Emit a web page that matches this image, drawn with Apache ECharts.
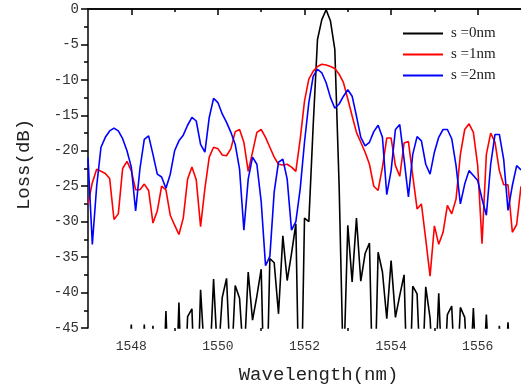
<!DOCTYPE html>
<html><head><meta charset="utf-8">
<script src="https://cdn.jsdelivr.net/npm/echarts@6/dist/echarts.min.js"></script>
<style>html,body{margin:0;padding:0;background:#fff}#c{width:521px;height:389px}</style>
</head><body><div id="c"></div>
<script>
const wavelength = [1547.0,1547.1,1547.2,1547.3,1547.4,1547.5,1547.6,1547.7,1547.8,1547.9,
1548.0,1548.1,1548.2,1548.3,1548.4,1548.5,1548.6,1548.7,1548.8,1548.9,
1549.0,1549.1,1549.2,1549.3,1549.4,1549.5,1549.6,1549.7,1549.8,1549.9,
1550.0,1550.1,1550.2,1550.3,1550.4,1550.5,1550.6,1550.7,1550.8,1550.9,
1551.0,1551.1,1551.2,1551.3,1551.4,1551.5,1551.6,1551.7,1551.8,1551.9,
1552.0,1552.1,1552.2,1552.3,1552.4,1552.5,1552.6,1552.7,1552.8,1552.9,
1553.0,1553.1,1553.2,1553.3,1553.4,1553.5,1553.6,1553.7,1553.8,1553.9,
1554.0,1554.1,1554.2,1554.3,1554.4,1554.5,1554.6,1554.7,1554.8,1554.9,
1555.0,1555.1,1555.2,1555.3,1555.4,1555.5,1555.6,1555.7,1555.8,1555.9,
1556.0,1556.1,1556.2,1556.3,1556.4,1556.5,1556.6,1556.7,1556.8,1556.9,1557.0];

const lossS0 = [-60,-60,-60,-60,-60,-60,-60,-60,-60,-60,
-44.5,-60,-60,-44.5,-60,-44.7,-60,-60,-42.6,-60,
-60,-41.4,-60,-43.4,-42.3,-60,-39.6,-50,-52,-38.1,
-50,-40.7,-38.0,-52,-39.0,-40.8,-50,-37.1,-43.9,-40.5,
-36.7,-62,-35.2,-35.8,-43.0,-32.0,-38.3,-34.5,-30.3,-64,
-29.5,-30.0,-16.5,-4.3,-1.5,-0.1,-1.7,-5.7,-25,-52,
-30.5,-38.5,-29.5,-38.4,-34.5,-33.0,-60,-34.3,-37.1,-43.7,
-35.5,-43.5,-40.4,-37.5,-60,-39.1,-40.2,-55,-39.2,-43.6,
-55,-40.1,-55,-43.1,-41.9,-55,-42.1,-43.5,-55,-42.2,
-55,-55,-43.1,-55,-55,-44.7,-55,-44.2,-55,-55,-55];

const lossS1 = [-27.5,-24.5,-22.6,-22.9,-23.2,-23.9,-29.7,-28.9,-22.5,-21.5,
-22.8,-25.5,-25.5,-24.7,-25.6,-30.2,-28.5,-25.0,-25.5,-29.1,
-30.5,-31.8,-29.5,-24.0,-22.3,-24.1,-30.7,-25.3,-20.9,-19.5,
-19.7,-20.6,-20.7,-19.7,-17.3,-17.0,-18.8,-22.9,-20.2,-17.4,
-17.0,-18.1,-19.5,-20.9,-21.9,-22.0,-21.9,-22.3,-22.9,-18.4,
-13.0,-9.9,-8.8,-8.1,-7.8,-7.9,-8.1,-8.4,-9.2,-10.4,
-12.7,-15.1,-17.4,-18.8,-20.2,-21.9,-25.0,-25.6,-22.3,-18.2,
-18.2,-22.1,-23.6,-18.9,-18.7,-23.5,-28.2,-27.5,-32.5,-37.7,
-30.6,-33.2,-31.5,-27.7,-28.9,-26.8,-20.5,-17.0,-16.2,-17.4,
-22.1,-33.1,-20.5,-17.5,-18.8,-22.8,-24.8,-24.8,-31.5,-30.4,-25.0];

const lossS2 = [-21.0,-33.2,-25.0,-19.5,-18.1,-17.2,-16.8,-17.2,-18.3,-20.0,
-22.3,-28.5,-22.5,-18.4,-17.9,-20.5,-23.3,-23.7,-25.3,-23.3,
-20.0,-18.6,-17.8,-16.4,-15.3,-15.8,-19.1,-20.2,-15.3,-12.6,
-13.2,-14.8,-16.0,-17.4,-19.1,-22.6,-31.2,-24.0,-20.9,-21.9,
-27.2,-36.2,-34.9,-25.8,-21.6,-21.2,-24.0,-31.2,-30.0,-25.4,
-18.8,-13.2,-9.5,-8.5,-9.0,-10.4,-12.5,-14.0,-13.4,-12.3,
-11.4,-12.3,-15.1,-18.1,-19.3,-18.8,-17.3,-16.4,-18.1,-26.2,
-22.8,-17.0,-16.3,-21.2,-26.5,-20.5,-18.0,-18.6,-21.9,-23.3,
-20.2,-18.1,-17.0,-17.0,-18.3,-22.1,-27.5,-24.7,-22.8,-23.5,
-24.2,-26.8,-29.1,-21.9,-17.7,-17.7,-21.2,-28.4,-24.9,-22.1,-22.7];

const seriesNames = ['s =0nm', 's =1nm', 's =2nm'];
const seriesColors = ['#000000', '#ff0000', '#0000ff'];
const xMajorTicks = [1548, 1550, 1552, 1554, 1556];
const xMinorTicks = [1549, 1551, 1553, 1555];
const xTopTicks = [1548, 1549, 1550, 1551, 1552, 1553, 1554, 1555, 1556];

const MONO = '"Liberation Mono", "DejaVu Sans Mono", monospace';
const allLoss = [lossS0, lossS1, lossS2];

const chart = echarts.init(document.getElementById('c'), null, {renderer: 'canvas'});
chart.setOption({
  animation: false,
  backgroundColor: '#ffffff',
  grid: {left: 88, top: 9, right: 0, bottom: 60, containLabel: false},
  legend: {
    orient: 'vertical', left: 398, top: 21,
    icon: 'rect', itemWidth: 40, itemHeight: 2, itemGap: 6,
    data: seriesNames,
    textStyle: {fontFamily: '"Liberation Serif", serif', fontSize: 15, lineHeight: 14, color: '#222', padding: [0, 0, 0, 3]}
  },
  xAxis: [
    {
      type: 'value', min: 1547, max: 1557, position: 'bottom',
      axisLine: {show: true, lineStyle: {color: '#000', width: 1.5}},
      axisTick: {show: true, customValues: xMajorTicks, length: 6, lineStyle: {color: '#000', width: 1.5}},
      axisLabel: {customValues: xMajorTicks, margin: 12, fontFamily: MONO, fontSize: 13, color: '#333',
        formatter: v => String(v)},
      splitLine: {show: false},
      name: 'Wavelength(nm)', nameLocation: 'middle', nameGap: 37,
      nameTextStyle: {fontFamily: MONO, fontSize: 19, color: '#222', padding: [0, 0, 0, 28]}
    },
    {
      type: 'value', min: 1547, max: 1557, position: 'bottom',
      axisLine: {show: false},
      axisTick: {show: true, customValues: xMinorTicks, length: 3, lineStyle: {color: '#000', width: 1.5}},
      axisLabel: {show: false}, splitLine: {show: false}
    },
    {
      type: 'value', min: 1547, max: 1557, position: 'top',
      axisLine: {show: true, lineStyle: {color: '#000', width: 1.5}},
      axisTick: {show: true, inside: true, customValues: xTopTicks, length: 3, lineStyle: {color: '#000', width: 1.5}},
      axisLabel: {show: false}, splitLine: {show: false}
    }
  ],
  yAxis: {
    type: 'value', min: -45, max: 0, interval: 5,
    axisLine: {show: true, lineStyle: {color: '#000', width: 1.5}},
    axisTick: {show: true, length: 7, lineStyle: {color: '#000', width: 1.5}},
    minorTick: {show: true, splitNumber: 2, length: 4, lineStyle: {color: '#000', width: 1.5}},
    axisLabel: {margin: 9, fontFamily: MONO, fontSize: 14, color: '#333'},
    splitLine: {show: false},
    name: 'Loss(dB)', nameLocation: 'middle', nameGap: 55, nameRotate: 90,
    nameTextStyle: {fontFamily: MONO, fontSize: 19, color: '#222', padding: [0, 0, 0, 8]}
  },
  series: seriesNames.map((name, s) => ({
    name: name, type: 'line', xAxisIndex: 0, symbol: 'none', showSymbol: false,
    clip: true,
    lineStyle: {color: seriesColors[s], width: 1.6},
    itemStyle: {color: seriesColors[s]},
    data: wavelength.map((w, i) => [w, allLoss[s][i]])
  }))
});
</script></body></html>
